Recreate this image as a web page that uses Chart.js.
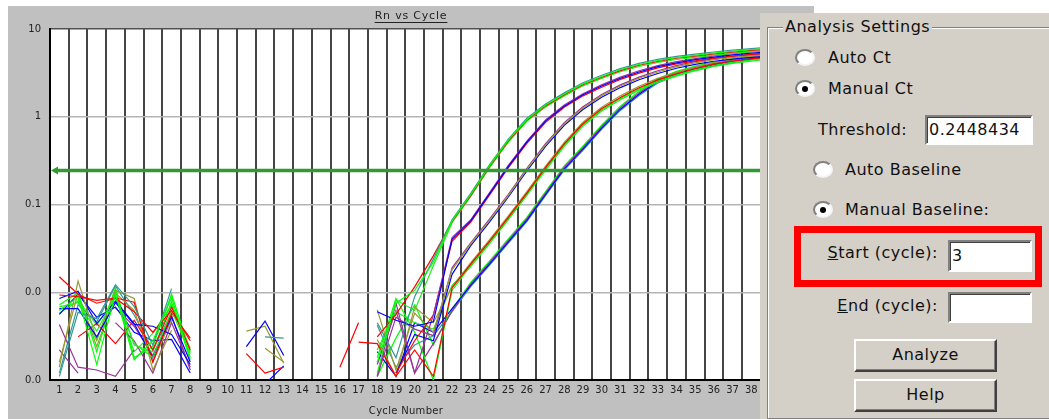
<!DOCTYPE html>
<html>
<head>
<meta charset="utf-8">
<title>Rn vs Cycle</title>
<script src="https://cdn.jsdelivr.net/npm/chart.js@4.4.0/dist/chart.umd.min.js"></script>
<style>
  body { margin: 0; width: 1049px; height: 419px; overflow: hidden; position: relative; background: #fff;
         font-family: "DejaVu Sans", sans-serif; }
  #plot { position: absolute; left: 8px; top: 6px; background: #c0c0c0; }
  #settings { position: absolute; left: 760px; top: 13px; width: 289px; height: 406px; background: #d4d0c8;
              overflow: hidden; font-size: 16px; letter-spacing: 0.5px; color: #111; }
  #group { position: absolute; left: 7px; top: 14px; width: 320px; height: 390px; border: 1px solid #808080;
           box-shadow: inset 1px 1px 0 #fff, 1px 1px 0 #fff; }
  #legend { position: absolute; left: 23px; top: 4px; line-height: 20px; padding: 0 2px; background: #d4d0c8; }
  .lbl { position: absolute; line-height: 20px; white-space: nowrap; }
  .right { left: 0; width: 178px; text-align: right; }
  .radio { position: absolute; width: 16px; height: 13px; border-radius: 50%; background: #fff;
           border: 2px solid; border-color: #808080 #f4f4f4 #f4f4f4 #808080; }
  .radio.on::after { content: ''; position: absolute; left: 5px; top: 3.5px; width: 6px; height: 6px;
                     border-radius: 50%; background: #000; }
  .box { position: absolute; background: #fff; border: 2px solid; border-color: #808080 #fff #fff #808080;
         box-shadow: inset 1px 1px 0 #404040; box-sizing: border-box; padding-left: 2px; white-space: nowrap; }
  .btn { position: absolute; left: 94px; width: 143px; height: 33px; background: #d4d0c8; box-sizing: border-box;
         border: 2px solid; border-color: #fff #404040 #404040 #fff; box-shadow: inset -1px -1px 0 #808080;
         text-align: center; line-height: 28px; }
  #mark { position: absolute; left: 34px; top: 213px; width: 248px; height: 61px; border: 7px solid #ff0000;
          box-sizing: border-box; }
</style>
</head>
<body>
<canvas id="plot" width="806" height="413"></canvas>

<div id="settings">
  <div id="group"></div>
  <div id="legend">Analysis Settings</div>

  <div class="radio" style="left:35px;top:36px"></div>
  <div class="lbl" style="left:68px;top:35px">Auto Ct</div>
  <div class="radio on" style="left:35px;top:67px"></div>
  <div class="lbl" style="left:68px;top:66px">Manual Ct</div>

  <div class="lbl" style="left:58px;top:107px">Threshold:</div>
  <div class="box" id="thresholdBox" style="left:165px;top:102px;width:108px;height:30px;line-height:26px"></div>

  <div class="radio" style="left:53px;top:148px"></div>
  <div class="lbl" style="left:85px;top:147px">Auto Baseline</div>
  <div class="radio on" style="left:53px;top:188px"></div>
  <div class="lbl" style="left:85px;top:187px">Manual Baseline:</div>

  <div id="mark"></div>
  <div class="lbl right" style="top:230px"><u>S</u>tart (cycle):</div>
  <div class="box" id="startBox" style="left:188px;top:227px;width:84px;height:32px;line-height:28px"></div>
  <div class="lbl right" style="top:283px"><u>E</u>nd (cycle):</div>
  <div class="box" style="left:188px;top:279px;width:84px;height:31px"></div>

  <div class="btn" style="top:326px">Analyze</div>
  <div class="btn" style="top:366px">Help</div>
</div>

<script>
// amplification data: delta Rn per cycle, null where the value is below zero
const cycles = [1, 2, 3, 4, 5, 6, 7, 8, 9, 10, 11, 12, 13, 14, 15, 16, 17, 18, 19, 20,
                21, 22, 23, 24, 25, 26, 27, 28, 29, 30, 31, 32, 33, 34, 35, 36, 37, 38, 39, 40];

const well01 = [0.0062, 0.0088, 0.0015, 0.0095, 0.0017, 0.0028, 0.0087, 0.0018, null, null,
                null, null, null, null, null, null, null, 0.0016, 0.0075, 0.0105,
                0.022, 0.065, 0.13, 0.275, 0.54, 0.93, 1.36, 1.82, 2.37, 2.88,
                3.43, 3.94, 4.37, 4.73, 5.01, 5.31, 5.56, 5.82, 6.03, 6.17];
const well02 = [0.0011, 0.0059, 0.005, 0.0122, 0.0069, 0.0025, 0.011, null, null, null,
                null, 0.0031, 0.003, null, null, null, null, 0.0045, 0.0018, 0.0089,
                0.024, 0.067, 0.134, 0.283, 0.553, 0.961, 1.40, 1.87, 2.44, 2.97,
                3.53, 4.06, 4.50, 4.87, 5.16, 5.47, 5.73, 5.99, 6.21, 6.36];
const well03 = [0.015, 0.0095, 0.0075, 0.0085, 0.006, 0.0035, 0.0062, 0.0028, null, null,
                null, null, null, null, null, null, null, 0.0031, 0.0056, 0.0115,
                0.026, 0.064, 0.127, 0.27, 0.526, 0.914, 1.33, 1.78, 2.32, 2.82,
                3.36, 3.86, 4.28, 4.64, 4.91, 5.20, 5.45, 5.70, 5.91, 6.05];
const well04 = [0.0068, 0.0076, 0.0036, 0.0093, 0.0026, 0.0018, 0.0062, 0.002, null, null,
                null, null, null, null, null, null, null, 0.0012, 0.0082, 0.0062,
                0.02, 0.062, 0.124, 0.261, 0.51, 0.886, 1.29, 1.73, 2.25, 2.74,
                3.26, 3.74, 4.15, 4.49, 4.76, 5.04, 5.28, 5.53, 5.73, 5.86];
const well05 = [0.0065, 0.0065, 0.0031, 0.0076, 0.0043, 0.0041, 0.0033, 0.0015, null, null,
                0.0024, 0.0047, 0.0019, null, null, null, null, 0.006, 0.0048, 0.0041,
                0.0046, 0.040, 0.065, 0.132, 0.269, 0.513, 0.891, 1.32, 1.78, 2.24,
                2.75, 3.24, 3.72, 4.12, 4.47, 4.79, 5.07, 5.31, 5.50, 5.69];
const well06 = [0.0043, 0.0014, 0.0013, 0.0011, 0.0022, null, null, null, null, null,
                null, null, null, null, null, null, null, 0.0011, 0.0075, 0.0012,
                0.0055, 0.042, 0.067, 0.136, 0.277, 0.528, 0.918, 1.36, 1.83, 2.31,
                2.83, 3.34, 3.83, 4.24, 4.60, 4.93, 5.22, 5.47, 5.67, 5.86];
const well07 = [0.0093, 0.0089, 0.0081, 0.0086, 0.0077, 0.0016, 0.0058, 0.003, null, null,
                null, null, null, null, null, 0.0014, 0.0045, null, 0.0012, 0.0028,
                0.0055, 0.038, 0.063, 0.128, 0.261, 0.498, 0.864, 1.28, 1.73, 2.17,
                2.67, 3.14, 3.61, 4.00, 4.34, 4.65, 4.92, 5.15, 5.34, 5.52];
const well08 = [0.0014, 0.0134, 0.0029, 0.0105, 0.0085, 0.0013, 0.0037, null, null, null,
                0.0036, 0.0041, 0.00155, null, null, null, null, 0.0063, 0.0013, 0.0058,
                0.0035, 0.018, 0.0355, 0.066, 0.126, 0.251, 0.479, 0.832, 1.26, 1.74,
                2.24, 2.75, 3.24, 3.72, 4.12, 4.47, 4.73, 4.95, 5.13, 5.31];
const well09 = [0.0085, 0.0103, 0.0044, 0.0079, 0.0044, 0.0018, 0.0052, 0.0016, null, null,
                null, null, null, null, null, null, null, null, 0.0012, 0.0033,
                0.0028, 0.016, 0.034, 0.063, 0.121, 0.241, 0.46, 0.799, 1.21, 1.67,
                2.15, 2.64, 3.11, 3.57, 3.96, 4.29, 4.54, 4.75, 4.92, 5.10];
const well10 = [null, null, null, 0.0045, 0.0028, 0.0012, 0.0045, 0.0014, null, null,
                null, null, null, null, null, null, null, 0.0011, 0.0052, 0.0038,
                0.0032, 0.019, 0.0366, 0.068, 0.130, 0.259, 0.493, 0.857, 1.30, 1.79,
                2.31, 2.83, 3.34, 3.83, 4.24, 4.60, 4.87, 5.10, 5.28, 5.47];
const well11 = [null, 0.0031, 0.0044, 0.0026, 0.0048, 0.0022, 0.0068, 0.0022, null, null,
                0.002, 0.0012, 0.0014, null, null, null, 0.0027, 0.0026, 0.0011, 0.0022,
                0.0011, 0.0112, 0.0209, 0.038, 0.0708, 0.135, 0.263, 0.49, 0.832, 1.23,
                1.66, 2.14, 2.63, 3.09, 3.55, 3.98, 4.32, 4.57, 4.84, 5.01];
const well12 = [0.0072, 0.0098, 0.0021, 0.0105, 0.0025, 0.0021, 0.0078, 0.0017, null, null,
                null, null, null, null, null, null, null, 0.0018, 0.0085, 0.0035,
                0.001, 0.0105, 0.0203, 0.0369, 0.0687, 0.131, 0.255, 0.475, 0.807, 1.19,
                1.61, 2.08, 2.55, 3.00, 3.44, 3.86, 4.19, 4.43, 4.69, 4.86];
const well13 = [0.0016, 0.0098, 0.0024, 0.0098, 0.0062, 0.0016, 0.0049, null, null, null,
                null, 0.0023, 0.0016, null, null, null, null, 0.0029, 0.0011, 0.0068,
                0.0045, 0.0115, 0.0217, 0.0395, 0.0736, 0.140, 0.274, 0.51, 0.865, 1.28,
                1.73, 2.23, 2.74, 3.21, 3.69, 4.14, 4.49, 4.75, 5.03, 5.21];
const well14 = [null, 0.0082, 0.0042, 0.0088, 0.0021, 0.0034, 0.0071, 0.0023, null, null,
                null, null, null, null, null, null, null, 0.0022, 0.006, 0.0045,
                0.0038, 0.012, 0.0196, 0.0357, 0.0666, 0.127, 0.247, 0.461, 0.782, 1.16,
                1.56, 2.01, 2.47, 2.90, 3.34, 3.74, 4.06, 4.30, 4.55, 4.71];
const well15 = [0.0056, 0.0095, 0.0052, 0.0068, 0.0035, 0.0028, 0.0029, 0.0012, null, null,
                null, 0.0009, 0.00145, null, null, null, null, 0.0021, 0.0011, 0.0045,
                0.0035, 0.0065, 0.012, 0.0209, 0.0372, 0.066, 0.13, 0.255, 0.427, 0.741,
                1.22, 1.80, 2.50, 3.05, 3.50, 3.90, 4.25, 4.60, 4.85, 5.00];
const well16 = [0.0022, 0.0012, null, 0.0066, 0.0041, 0.0019, 0.0055, 0.0013, null, null,
                null, null, null, null, null, null, null, 0.0015, 0.0062, 0.0012,
                0.0026, 0.0061, 0.0125, 0.0217, 0.0387, 0.0686, 0.135, 0.265, 0.444, 0.771,
                1.27, 1.87, 2.60, 3.17, 3.64, 4.06, 4.42, 4.78, 5.04, 5.20];
const well17 = [0.0058, 0.0079, 0.0028, 0.0112, 0.0018, 0.0024, 0.0095, 0.0021, null, null,
                null, null, null, null, null, null, null, 0.0011, 0.003, 0.0072,
                0.0025, 0.0064, 0.013, 0.0226, 0.0402, 0.0713, 0.140, 0.275, 0.461, 0.80,
                1.32, 1.94, 2.70, 3.29, 3.78, 4.21, 4.59, 4.97, 5.24, 5.40];
const well18 = [0.0012, 0.0072, 0.0046, 0.0118, 0.0055, 0.0022, 0.0058, null, null, null,
                null, null, null, null, null, null, null, 0.0042, 0.0014, 0.0025,
                0.0032, 0.006, 0.0116, 0.0203, 0.0361, 0.064, 0.126, 0.247, 0.414, 0.719,
                1.18, 1.75, 2.43, 2.96, 3.40, 3.78, 4.12, 4.46, 4.70, 4.85];

const wells = [well01, well02, well03, well04, well05, well06, well07, well08, well09,
               well10, well11, well12, well13, well14, well15, well16, well17, well18];
const wellColors = ['#00ff00', '#339999', '#ff0000', '#22ee22', '#0000ff', '#993399',
                    '#ff0000', '#999933', '#0000ff', '#993399', '#ff0000', '#00ff00',
                    '#999933', '#22ee22', '#0000ff', '#993399', '#00ff00', '#339999'];

const threshold = 0.2448434;
const baselineStart = 3;
const yTicks = [0.001, 0.01, 0.1, 1, 10];
const yTickLabels = ['0.0', '0.0', '0.1', '1', '10'];
const chartTitle = 'Rn vs Cycle';
const xAxisTitle = 'Cycle Number';

document.getElementById('thresholdBox').textContent = threshold;
document.getElementById('startBox').textContent = baselineStart;

// white plotting area on the grey window
const plotBackground = {
    id: 'plotBackground',
    beforeDraw(chart) {
        const { ctx, chartArea } = chart;
        ctx.save();
        ctx.fillStyle = '#fff';
        ctx.fillRect(chartArea.left, chartArea.top, chartArea.right - chartArea.left, chartArea.bottom - chartArea.top);
        ctx.restore();
    }
};

// threshold bar with its drag arrow on the left
const thresholdLine = {
    id: 'thresholdLine',
    afterDatasetsDraw(chart) {
        const { ctx, chartArea } = chart;
        const y = chart.scales.y.getPixelForValue(threshold);
        ctx.save();
        ctx.strokeStyle = '#339933';
        ctx.fillStyle = '#339933';
        ctx.lineWidth = 3.5;
        ctx.beginPath();
        ctx.moveTo(chartArea.left + 5, y);
        ctx.lineTo(chartArea.right, y);
        ctx.stroke();
        ctx.beginPath();
        ctx.moveTo(chartArea.left + 1, y);
        ctx.lineTo(chartArea.left + 8, y - 4);
        ctx.lineTo(chartArea.left + 8, y + 4);
        ctx.closePath();
        ctx.fill();
        ctx.restore();
    }
};

// underlined title and axis caption, centred on the window
const captions = {
    id: 'captions',
    afterDraw(chart) {
        const ctx = chart.ctx;
        const cx = chart.width / 2;
        ctx.save();
        ctx.fillStyle = '#222';
        ctx.textAlign = 'center';
        ctx.textBaseline = 'middle';
        ctx.font = '11px "DejaVu Sans"';
        ctx.letterSpacing = '0.8px';
        ctx.fillText(chartTitle, cx, 10);
        const w = ctx.measureText(chartTitle).width;
        ctx.fillRect(cx - w / 2, 16, w, 1);
        ctx.font = '10px "DejaVu Sans"';
        ctx.letterSpacing = '0.3px';
        ctx.fillText(xAxisTitle, cx - 5, 405);
        ctx.restore();
    }
};

const tickFont = { family: 'DejaVu Sans', size: 10 };

new Chart(document.getElementById('plot').getContext('2d'), {
    type: 'line',
    data: {
        labels: cycles,
        datasets: wells.map((well, i) => ({
            data: well,
            borderColor: wellColors[i],
            borderWidth: 1.2,
            pointRadius: 0,
            tension: 0,
            fill: false
        }))
    },
    options: {
        responsive: false,
        animation: false,
        events: [],
        layout: { padding: { top: 23, right: 16, left: 0, bottom: 0 } },
        plugins: { legend: { display: false }, tooltip: { enabled: false } },
        scales: {
            x: {
                type: 'category',
                offset: true,
                grid: { offset: true, color: '#454545', lineWidth: 2, drawTicks: false },
                border: { color: '#000', width: 2 },
                ticks: { color: '#222', font: tickFont, padding: 4, autoSkip: false, maxRotation: 0 },
                afterFit: scale => { scale.height = 39; }
            },
            y: {
                type: 'logarithmic',
                min: 0.001,
                max: 10,
                afterBuildTicks: scale => { scale.ticks = yTicks.map(v => ({ value: v })); },
                grid: {
                    color: c => (c.tick && c.tick.value === 10 ? '#505050' : '#b4b4b4'),
                    lineWidth: 1.5,
                    drawTicks: false
                },
                border: { color: '#000', width: 2 },
                ticks: { color: '#222', font: tickFont, padding: 9, callback: (v, i) => yTickLabels[i] },
                afterFit: scale => { scale.width = 42; }
            }
        }
    },
    plugins: [plotBackground, thresholdLine, captions]
});
</script>
</body>
</html>
